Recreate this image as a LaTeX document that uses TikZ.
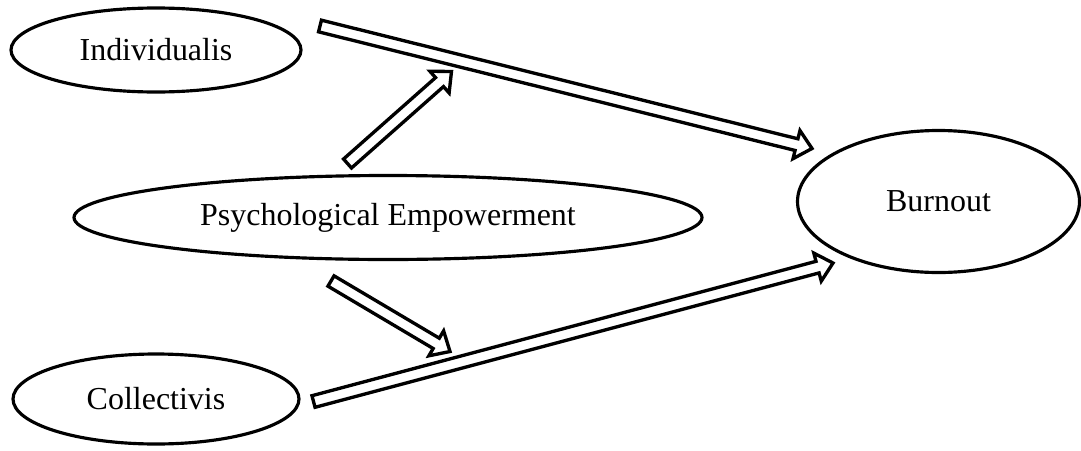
\documentclass[tikz,border=0pt]{standalone}
\usepackage{fontspec}
\setmainfont{Liberation Serif}
\usetikzlibrary{shapes.geometric,calc,positioning}

\begin{document}
\begin{tikzpicture}[
    x=0.02cm, y=-0.02cm,
    var/.style={ellipse, draw, line width=1.8pt, inner sep=0pt, font=\fontsize{18.2}{22}\selectfont},
    blockarrow/.style={line width=1.9pt, line join=miter,
        to path={($(\tikztostart)!0.12cm!90:(\tikztotarget)$)
            -- ($(\tikztotarget)!0.32cm!(\tikztostart)!0.12cm!-90:(\tikztostart)$)
            -- ($(\tikztotarget)!0.32cm!(\tikztostart)!0.29cm!-90:(\tikztostart)$)
            -- (\tikztotarget)
            -- ($(\tikztotarget)!0.32cm!(\tikztostart)!0.29cm!90:(\tikztostart)$)
            -- ($(\tikztotarget)!0.32cm!(\tikztostart)!0.12cm!90:(\tikztostart)$)
            -- ($(\tikztostart)!0.12cm!-90:(\tikztotarget)$) -- cycle}},
]
    \useasboundingbox (0,0) rectangle (1081,450);
    \node[var, minimum width=0.02cm*290, minimum height=0.02cm*84] (ind) at (156,50) {Individualis};
    \node[var, minimum width=0.02cm*628, minimum height=0.02cm*84] (pe) at (388,217.5) {Psychological Empowerment};
    \node[var, minimum width=0.02cm*286, minimum height=0.02cm*90] (col) at (156,399) {Collectivis};
    \node[var, minimum width=0.02cm*282, minimum height=0.02cm*142] (burn) at (938.5,201.5) {Burnout};

    % arrow ends
    \coordinate (ind-out) at (320,26);
    \coordinate (burn-in1) at (812,148.5);
    \coordinate (col-out) at (313.5,401.5);
    \coordinate (burn-in2) at (833,263);
    \coordinate (pe-out1) at (347.5,163.5);
    \coordinate (mod1) at (451.5,71.5);
    \coordinate (pe-out2) at (331,281);
    \coordinate (mod2) at (450,351.5);

    \draw[blockarrow] (ind-out) to (burn-in1);
    \draw[blockarrow] (col-out) to (burn-in2);
    \draw[blockarrow] (pe-out1) to (mod1);
    \draw[blockarrow] (pe-out2) to (mod2);
\end{tikzpicture}
\end{document}
